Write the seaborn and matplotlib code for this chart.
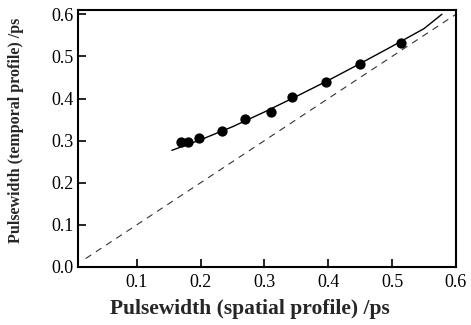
import matplotlib
matplotlib.use("Agg")
import matplotlib.pyplot as plt
import seaborn as sns
import pandas as pd

# Measured points
spatial = [0.170, 0.181, 0.197, 0.233, 0.269, 0.310, 0.344, 0.397, 0.450, 0.514]
temporal = [0.297, 0.297, 0.307, 0.324, 0.352, 0.367, 0.403, 0.440, 0.483, 0.533]

# Fitted curve
fit_x = [0.155, 0.20, 0.25, 0.30, 0.35, 0.40, 0.45, 0.50, 0.55, 0.578]
fit_y = [0.277, 0.302, 0.333, 0.368, 0.405, 0.443, 0.483, 0.524, 0.566, 0.600]

# Reference line y = x
ref_x = [0.02, 0.60]
ref_y = [0.02, 0.60]

xticks = [0.1, 0.2, 0.3, 0.4, 0.5, 0.6]
yticks = [0.0, 0.1, 0.2, 0.3, 0.4, 0.5, 0.6]

sns.set_style("ticks")
plt.rcParams['font.family'] = ['Liberation Serif', 'DejaVu Serif']
plt.rcParams['xtick.direction'] = 'in'
plt.rcParams['ytick.direction'] = 'in'

fig = plt.figure(figsize=(4.71, 3.25), dpi=100)
ax = fig.add_axes([0.1656, 0.1785, 0.8024, 0.7905])

pts = pd.DataFrame({"x": spatial, "y": temporal})
fit = pd.DataFrame({"x": fit_x, "y": fit_y})
ref = pd.DataFrame({"x": ref_x, "y": ref_y})

sns.lineplot(data=ref, x="x", y="y", ax=ax, color="#333333", lw=0.8,
             linestyle=(0, (6, 5)), sort=False)
sns.lineplot(data=fit, x="x", y="y", ax=ax, color="black", lw=1.0, sort=False)
sns.scatterplot(data=pts, x="x", y="y", ax=ax, color="black", s=55,
                edgecolor="black", linewidth=0, zorder=5)

ax.set_xlim(0.008, 0.6)
ax.set_ylim(0.0, 0.61)
ax.set_xticks(xticks)
ax.set_yticks(yticks)
ax.set_xticklabels([f"{t:.1f}" for t in xticks])
ax.set_yticklabels([f"{t:.1f}" for t in yticks])
ax.tick_params(axis="both", labelsize=13, length=6, width=1.2, pad=5, colors="black")
ax.tick_params(axis="y", pad=3)
for s in ax.spines.values():
    s.set_linewidth(1.5)
    s.set_color("black")

ax.set_xlabel("Pulsewidth (spatial profile) /ps", fontsize=15.5, fontweight="bold")
ax.xaxis.set_label_coords(0.455, -0.125)
ax.set_ylabel("Pulsewidth (temporal profile) /ps", fontsize=11.5, fontweight="bold")
ax.yaxis.set_label_coords(-0.142, 0.53)

fig.savefig("out.png", dpi=100)
